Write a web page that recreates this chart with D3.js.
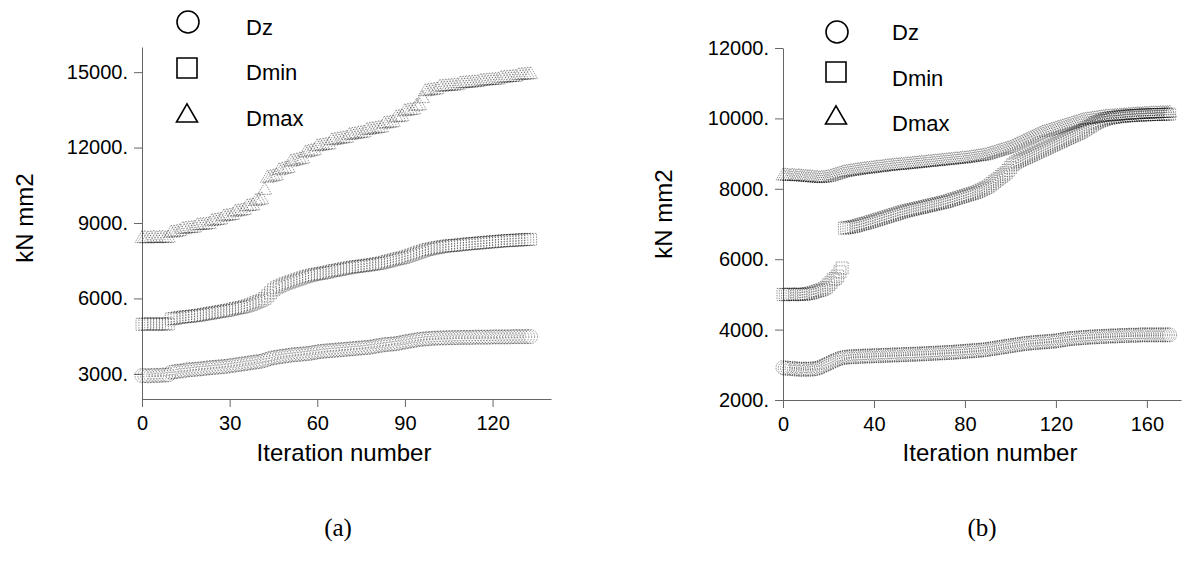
<!DOCTYPE html>
<html>
<head>
<meta charset="utf-8">
<script src="https://cdn.jsdelivr.net/npm/d3@7"></script>
<style>
  html, body { margin: 0; padding: 0; background: #fff; }
  svg { display: block; }
  .tick text { font-family: "Liberation Sans", Arial, sans-serif; font-size: 20px; fill: #000; }
  .axis-title { font-family: "Liberation Sans", Arial, sans-serif; font-size: 24px; fill: #000; }
  .legend-text { font-family: "Liberation Sans", Arial, sans-serif; font-size: 22px; fill: #000; }
  .panel-label { font-family: "Liberation Serif", "Times New Roman", serif; font-size: 25px; fill: #000; }
</style>
</head>
<body>
<svg id="chart"></svg>
<script>
// --------------------
// Basic setup
// --------------------
const width = 1186;
const height = 563;

const svg = d3.select("#chart")
  .attr("width", width)
  .attr("height", height);

// --------------------
// Data: panel (a)
// --------------------
const aXTicks = [0, 30, 60, 90, 120];
const aYTicks = [3000, 6000, 9000, 12000, 15000];

const aDz = [
  2930, 2930, 2920, 2930, 2940, 2930, 2940, 2950, 2950, 2960,
  3060, 3080, 3100, 3110, 3120, 3150, 3160, 3170, 3180, 3190,
  3200, 3210, 3230, 3240, 3250, 3260, 3270, 3280, 3290, 3300,
  3320, 3340, 3350, 3370, 3390, 3400, 3420, 3440, 3460, 3470,
  3490, 3510, 3540, 3580, 3620, 3640, 3660, 3680, 3700, 3710,
  3730, 3750, 3760, 3770, 3780, 3790, 3800, 3810, 3830, 3850,
  3870, 3890, 3900, 3910, 3920, 3930, 3940, 3950, 3960, 3970,
  3980, 3990, 4000, 4010, 4020, 4030, 4040, 4050, 4060, 4080,
  4100, 4120, 4140, 4160, 4170, 4180, 4190, 4200, 4220, 4250,
  4270, 4290, 4310, 4330, 4350, 4370, 4380, 4390, 4400, 4410,
  4420, 4420, 4430, 4430, 4430, 4440, 4440, 4440, 4440, 4450,
  4450, 4450, 4450, 4450, 4460, 4460, 4460, 4460, 4460, 4460,
  4470, 4470, 4470, 4470, 4470, 4470, 4470, 4480, 4480, 4480,
  4480, 4480, 4480, 4480
];

const aDmin = [
  4970, 4980, 4980, 4990, 4980, 4970, 4980, 4990, 4980, 4980,
  5180, 5200, 5220, 5240, 5260, 5270, 5280, 5290, 5310, 5320,
  5340, 5360, 5380, 5400, 5420, 5440, 5460, 5480, 5500, 5520,
  5540, 5570, 5600, 5620, 5640, 5670, 5700, 5740, 5780, 5830,
  5880, 5930, 5990, 6100, 6220, 6340, 6420, 6480, 6530, 6580,
  6620, 6660, 6700, 6740, 6780, 6820, 6860, 6890, 6920, 6950,
  6970, 6990, 7010, 7030, 7060, 7090, 7110, 7130, 7150, 7180,
  7200, 7220, 7240, 7260, 7270, 7290, 7300, 7320, 7330, 7350,
  7370, 7390, 7410, 7440, 7470, 7500, 7530, 7560, 7590, 7610,
  7640, 7680, 7720, 7760, 7800, 7840, 7880, 7920, 7950, 7970,
  8000, 8020, 8040, 8060, 8080, 8090, 8100, 8110, 8120, 8130,
  8150, 8160, 8170, 8180, 8190, 8200, 8210, 8220, 8230, 8240,
  8250, 8260, 8270, 8280, 8290, 8300, 8300, 8310, 8320, 8320,
  8330, 8340, 8340, 8350
];

const aDmax = [
  8380, 8390, 8370, 8380, 8400, 8380, 8390, 8400, 8380, 8390,
  8600, 8610, 8630, 8660, 8740, 8760, 8770, 8780, 8800, 8890,
  8900, 8910, 8920, 8940, 9060, 9080, 9100, 9120, 9240, 9260,
  9280, 9300, 9430, 9450, 9470, 9500, 9640, 9660, 9680, 9860,
  9890, 9920, 10300, 10780, 10810, 10840, 10870, 11080, 11110, 11140,
  11170, 11420, 11450, 11480, 11510, 11540, 11780, 11810, 11840, 11870,
  12030, 12050, 12070, 12090, 12110, 12270, 12290, 12310, 12330, 12350,
  12370, 12480, 12500, 12520, 12540, 12560, 12580, 12680, 12700, 12720,
  12740, 12760, 12780, 12930, 12950, 12970, 12990, 13180, 13200, 13220,
  13430, 13450, 13470, 13490, 13640, 13660, 13950, 14220, 14240, 14260,
  14280, 14300, 14400, 14410, 14420, 14430, 14440, 14450, 14460, 14530,
  14540, 14550, 14560, 14570, 14580, 14590, 14630, 14640, 14650, 14660,
  14670, 14680, 14690, 14750, 14760, 14770, 14780, 14790, 14800, 14860,
  14870, 14880, 14890, 14900
];

// --------------------
// Data: panel (b)
// --------------------
const bXTicks = [0, 40, 80, 120, 160];
const bYTicks = [2000, 4000, 6000, 8000, 10000, 12000];

const bDz = [
  2920, 2900, 2910, 2890, 2900, 2880, 2890, 2870, 2880, 2870, 2880, 2870, 2880,
  2880, 2890, 2900, 2920, 2950, 2980, 3010,
  3040, 3070, 3100, 3130, 3160, 3180, 3200, 3210,
  3220, 3220, 3230, 3230, 3230, 3240, 3240, 3240, 3250, 3250, 3250, 3250, 3260,
  3260, 3260, 3260, 3270, 3270, 3270, 3270, 3280, 3280, 3280,
  3280, 3290, 3290, 3290, 3290, 3300, 3300, 3300, 3300, 3310,
  3310, 3310, 3320, 3320, 3320, 3330, 3330, 3330, 3340, 3340,
  3340, 3350, 3350, 3350, 3360, 3360, 3370, 3370, 3380, 3380,
  3390, 3390, 3400, 3400, 3410, 3410, 3420, 3420, 3430, 3440,
  3450, 3460, 3470, 3480, 3490, 3500, 3510, 3520, 3530, 3540,
  3550, 3560, 3570, 3580, 3590, 3600, 3610, 3610, 3620, 3630,
  3630, 3640, 3640, 3650, 3650, 3660, 3660, 3670, 3670, 3680,
  3690, 3700, 3710, 3720, 3730, 3740, 3750, 3750, 3760, 3760,
  3770, 3770, 3780, 3780, 3790, 3790, 3790, 3800, 3800, 3800,
  3810, 3810, 3810, 3820, 3820, 3820, 3820, 3830, 3830, 3830,
  3830, 3840, 3840, 3840, 3840, 3840, 3850, 3850, 3850, 3850,
  3850, 3850, 3850, 3850, 3850, 3850, 3850, 3850, 3850, 3850
];

const bDmin = [
  5000, 4990, 5000, 5010, 5000, 4990, 5000, 5010, 5000, 5000, 5010, 5020, 5030,
  5050, 5070, 5090, 5110, 5130, 5160, 5200,
  5270, 5330, 5410, 5450, 5520, 5640, 5750,
  6880, 6890, 6900, 6910, 6930, 6940, 6960, 6980, 7000, 7010, 7030, 7050, 7070, 7090,
  7110, 7130, 7150, 7170, 7190, 7210, 7230, 7250, 7270, 7290,
  7310, 7330, 7350, 7370, 7380, 7400, 7410, 7430, 7440, 7460,
  7470, 7490, 7500, 7520, 7530, 7550, 7560, 7580, 7590, 7610,
  7620, 7640, 7660, 7680, 7700, 7720, 7740, 7760, 7780, 7800,
  7820, 7840, 7860, 7880, 7900, 7930, 7960, 7990, 8020, 8050,
  8100, 8150, 8200, 8250, 8300, 8350, 8400, 8450, 8520, 8600,
  8680, 8730, 8770, 8800, 8830, 8860, 8890, 8920, 8950, 8980,
  9010, 9040, 9070, 9100, 9130, 9160, 9190, 9220, 9250, 9280,
  9310, 9340, 9370, 9400, 9430, 9460, 9490, 9520, 9550, 9580,
  9610, 9650, 9690, 9730, 9770, 9810, 9850, 9880, 9910, 9940,
  9960, 9980, 10000, 10010, 10020, 10030, 10040, 10050, 10060, 10060,
  10070, 10070, 10080, 10080, 10090, 10090, 10090, 10100, 10100, 10100,
  10100, 10110, 10110, 10110, 10110, 10110, 10120, 10120, 10120, 10120
];

const bDmax = [
  8360, 8370, 8360, 8350, 8360, 8350, 8340, 8350, 8340, 8330, 8330, 8320, 8320,
  8310, 8300, 8300, 8290, 8300, 8300, 8310, 8320, 8340, 8360, 8380, 8400, 8420, 8440, 8460,
  8470, 8480, 8490, 8500, 8510, 8520, 8530, 8540, 8550, 8560,
  8560, 8570, 8580, 8590, 8600, 8600, 8610, 8620, 8630, 8640,
  8640, 8650, 8660,
  8660, 8670, 8670, 8680, 8690, 8690, 8700, 8710, 8710, 8720,
  8730, 8730, 8740, 8750, 8750, 8760, 8770, 8770, 8780, 8790,
  8790, 8800, 8810, 8810, 8820, 8830, 8830, 8840, 8850, 8850,
  8860, 8870, 8880, 8890, 8900, 8910, 8920, 8930, 8940, 8960,
  8980, 9000, 9020, 9040, 9060, 9080, 9100, 9120, 9140, 9160,
  9190, 9220, 9250, 9280, 9310, 9340, 9370, 9400, 9430, 9460,
  9490, 9520, 9550, 9580, 9600, 9620, 9640, 9660, 9680, 9700,
  9720, 9740, 9760, 9780, 9800, 9820, 9840, 9860, 9880, 9900,
  9920, 9940, 9950, 9960, 9970, 9980, 9990, 10000, 10010, 10020,
  10030, 10040, 10040, 10050, 10050, 10060, 10060, 10070, 10070, 10080,
  10080, 10090, 10090, 10100, 10100, 10110, 10110, 10110, 10120, 10120,
  10120, 10130, 10130, 10130, 10130, 10140, 10140, 10140, 10140, 10150
];

const seriesNames = ["Dz", "Dmin", "Dmax"];

// --------------------
// Panel layout
// --------------------
const panels = [
  {
    x0: 142, x1: 551, y0: 399, y1: 47,
    xDomain: [0, 140], yDomain: [2000, 16000],
    xTicks: aXTicks, yTicks: aYTicks,
    series: [aDz, aDmin, aDmax],
    yTitle: [24, 218], xTitle: [344, 452],
    legend: { sx: 187, tx: 246, ys: [22, 68, 116], ty: [27, 72, 118] },
    label: "(a)", labelPos: [338, 527]
  },
  {
    x0: 783, x1: 1181, y0: 400, y1: 48,
    xDomain: [0, 175], yDomain: [2000, 12000],
    xTicks: bXTicks, yTicks: bYTicks,
    series: [bDz, bDmin, bDmax],
    yTitle: [663, 214], xTitle: [990, 452],
    legend: { sx: 836, tx: 892, ys: [32, 72, 118], ty: [32, 78, 123] },
    label: "(b)", labelPos: [982, 527]
  }
];

function drawMarker(sel, kind, size) {
  if (kind === 0) {
    return sel.append("circle").attr("r", size.r);
  }
  const type = kind === 1 ? d3.symbolSquare : d3.symbolTriangle;
  const area = kind === 1 ? size.sq * size.sq : Math.sqrt(3) / 4 * size.tri * size.tri;
  return sel.append("path").attr("d", d3.symbol().type(type).size(area)());
}

panels.forEach(p => {
  const g = svg.append("g");

  const x = d3.scaleLinear().domain(p.xDomain).range([p.x0, p.x1]);
  const y = d3.scaleLinear().domain(p.yDomain).range([p.y0, p.y1]);

  // --------------------
  // Axes
  // --------------------
  const yAxis = d3.axisLeft(y)
    .tickValues(p.yTicks)
    .tickSize(8)
    .tickSizeOuter(0)
    .tickPadding(6)
    .tickFormat(d => d + ".");

  const xAxis = d3.axisBottom(x)
    .tickValues(p.xTicks)
    .tickSize(8)
    .tickSizeOuter(0)
    .tickPadding(9)
    .tickFormat(d => d);

  g.append("g")
    .attr("transform", `translate(${p.x0},0)`)
    .call(yAxis)
    .call(s => s.select(".domain").attr("stroke", "#666"))
    .call(s => s.selectAll(".tick line").attr("stroke", "#666"));

  g.append("g")
    .attr("transform", `translate(0,${p.y0})`)
    .call(xAxis)
    .call(s => s.select(".domain").attr("stroke", "#666"))
    .call(s => s.selectAll(".tick line").attr("stroke", "#666"));

  // axis titles
  g.append("text")
    .attr("class", "axis-title")
    .attr("text-anchor", "middle")
    .attr("dominant-baseline", "central")
    .attr("transform", `translate(${p.yTitle[0]},${p.yTitle[1]}) rotate(-90)`)
    .text("kN mm2");

  g.append("text")
    .attr("class", "axis-title")
    .attr("text-anchor", "middle")
    .attr("dominant-baseline", "central")
    .attr("x", p.xTitle[0])
    .attr("y", p.xTitle[1])
    .text("Iteration number");

  // --------------------
  // Data markers (grey, dotted like the scanned halftone)
  // --------------------
  const dataSize = { r: 7, sq: 12, tri: 14 };
  p.series.forEach((vals, k) => {
    const sg = g.append("g")
      .attr("fill", "none")
      .attr("stroke", "#000")
      .attr("stroke-opacity", 0.4)
      .attr("stroke-dasharray", "1.5,1")
      .attr("stroke-width", 1);
    vals.forEach((v, i) => {
      const m = drawMarker(sg, k, dataSize);
      if (k === 0) m.attr("cx", x(i)).attr("cy", y(v));
      else m.attr("transform", `translate(${x(i)},${y(v)})`);
    });
  });

  // --------------------
  // Legend
  // --------------------
  const legendSize = { r: 11, sq: 20, tri: 21 };
  seriesNames.forEach((name, k) => {
    const lg = g.append("g")
      .attr("fill", "none")
      .attr("stroke", "#000")
      .attr("stroke-width", 1.6);
    const m = drawMarker(lg, k, legendSize);
    if (k === 0) m.attr("cx", p.legend.sx + 1).attr("cy", p.legend.ys[k]);
    else m.attr("transform", `translate(${p.legend.sx},${p.legend.ys[k]})`);

    g.append("text")
      .attr("class", "legend-text")
      .attr("x", p.legend.tx)
      .attr("y", p.legend.ty[k])
      .attr("dominant-baseline", "central")
      .text(name);
  });

  // panel label
  g.append("text")
    .attr("class", "panel-label")
    .attr("text-anchor", "middle")
    .attr("dominant-baseline", "central")
    .attr("x", p.labelPos[0])
    .attr("y", p.labelPos[1])
    .text(p.label);
});
</script>
</body>
</html>
